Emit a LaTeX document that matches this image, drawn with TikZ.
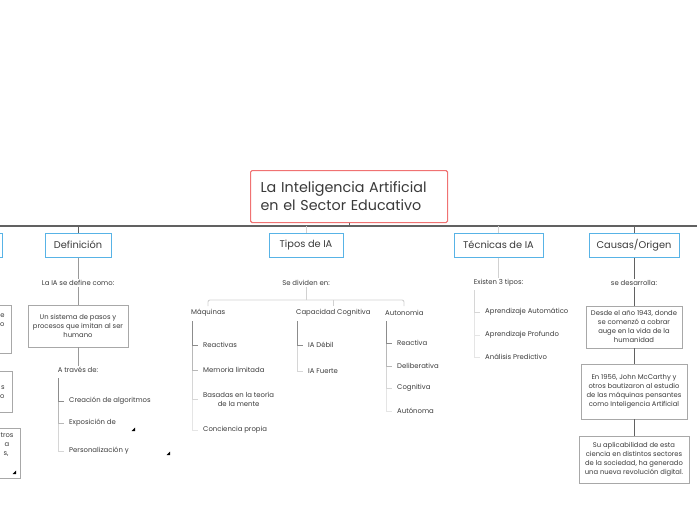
\documentclass[tikz,border=0pt]{standalone}
\usepackage{fontspec}
\setmainfont{Poppins}
\usetikzlibrary{positioning, shadows}

\definecolor{topicred}{HTML}{F07272}
\definecolor{mainblue}{HTML}{58B3E6}
\definecolor{notegray}{HTML}{A8A8A8}
\definecolor{inkgray}{HTML}{3A3A3A}

\begin{document}
\begin{tikzpicture}[x=1pt, y=-1pt, text=inkgray,
    topic/.style={rectangle, draw=topicred, line width=1.1pt, fill=white, rounded corners=1.5pt, text width=177pt, align=left, inner xsep=10pt, minimum width=197pt, minimum height=52pt, font=\fontsize{14.3}{18}\selectfont},
    branch/.style={rectangle, draw=mainblue, line width=1pt, fill=white, minimum height=24pt, inner xsep=0pt, font=\fontsize{9.8}{11}\selectfont},
    note/.style={rectangle, draw=notegray, line width=0.8pt, fill=white, align=center, inner sep=2pt, font=\fontsize{6.8}{9}\selectfont, drop shadow={opacity=0.12, shadow xshift=0.8pt, shadow yshift=-0.8pt}},
    lbl/.style={inner sep=1pt, font=\fontsize{6.9}{9}\selectfont},
    item/.style={lbl, anchor=west, inner xsep=5pt, align=center},
    dark/.style={draw=black!62, line width=1pt},
    mid/.style={draw=black!40, line width=0.9pt},
    light/.style={draw=black!18, line width=0.9pt},
    bara/.style={draw=black!45, line width=0.9pt},
    barb/.style={draw=black!28, line width=0.9pt},
    barc/.style={draw=black!16, line width=0.9pt},
    bard/.style={draw=black!10, line width=0.9pt},
    grip/.style={fill=black}]
    \useasboundingbox (0,0) rectangle (697,520);
    \clip (0,0) rectangle (697,520);

    % central topic and the main line
    \coordinate (mainL) at (0,226);
    \coordinate (mainR) at (697,226);
    \draw [dark, line width=1.4pt] (mainL) -- (mainR);
    \node [topic, anchor=north west] (topic) at (250,170) {La Inteligencia Artificial\\en el Sector Educativo};
    \draw [dark] (topic.south) -- (topic.south |- mainL);

    % main branches
    \node [branch, minimum width=60pt, anchor=east] (prev) at (3,245) {};
    \node [branch, minimum width=66pt] (def) at (78,245) {Definición};
    \node [branch, minimum width=74pt] (tipos) at (306,245) {Tipos de IA};
    \node [branch, minimum width=89pt] (tec) at (498.5,245) {Técnicas de IA};
    \node [branch, minimum width=90pt] (causas) at (634,245) {Causas/Origen};
    \draw [dark] (def.north) -- (def.north |- mainL);
    \draw [light] (tipos.north) -- (tipos.north |- mainL);
    \draw [light] (tec.north) -- (tec.north |- mainL);
    \draw [dark] (causas.north) -- (causas.north |- mainL);

    % clipped boxes on the left edge
    \node [note, anchor=north east, align=right, text width=50pt, inner xsep=7pt, minimum height=48pt] (left1) at (12,305) {e\\o\\~\\~};
    \node [note, anchor=north east, align=right, text width=50pt, inner xsep=8pt, minimum height=41pt] (left2) at (13,371) {s\\o};
    \node [note, anchor=north east, align=left, text width=50pt, inner xsep=2pt, minimum height=50pt] (left3) at (21,428) {\hspace*{32pt}tros\\\hspace*{36pt}a\\\hspace*{35pt}s,\\~\\~};
    \fill [grip] (16,474) -- ++(0,-3.5) -- ++(-3.5,3.5) -- cycle;

    % Definicion
    \node [lbl, below of=def, node distance=38pt] (defas) {La IA se define como:};
    \node [note, minimum width=100pt, minimum height=42pt, below of=defas, node distance=43pt] (defbox) {Un sistema de pasos y\\procesos que imitan al ser\\humano};
    \node [lbl, below of=defbox, node distance=44pt] (traves) {A través de:};
    \draw [mid] (def) -- (defas);
    \draw [mid] (defas) -- (defbox);
    \draw [mid] (defbox) -- (traves);
    \coordinate (travbar) at (58,378);
    \node [item] (algo) at (64,401) {Creación de algoritmos};
    \node [item] (expo) at (64,423) {Exposición de};
    \node [item] (perso) at (64,451) {Personalización y};
    \draw [barc] (travbar) |- (perso.west);
    \draw [barb] (travbar) |- (expo.west);
    \draw [bara] (travbar) |- (algo.west);
    \fill [grip] (135,431) -- ++(0,-3.5) -- ++(-3.5,3.5) -- cycle;
    \fill [grip] (170,455) -- ++(0,-3.5) -- ++(-3.5,3.5) -- cycle;

    % Tipos de IA
    \node [lbl, below of=tipos, node distance=38pt] (divid) {Se dividen en:};
    \coordinate (tj) at (306,300);
    \coordinate (maqtop) at (208,306);
    \coordinate (captop) at (333,306);
    \coordinate (autotop) at (404,306);
    \draw [light] (divid) -- (tj);
    \draw [light, rounded corners=2pt] (maqtop) -- (maqtop |- tj) -- (autotop |- tj) -- (autotop);
    \draw [light] (captop |- tj) -- (captop);
    \node [lbl, anchor=west] (maq) at (190,313) {Máquinas};
    \node [lbl, anchor=west] (cap) at (295,313) {Capacidad Cognitiva};
    \node [lbl, anchor=west] (auto) at (384,313) {Autonomia};

    \coordinate (maqbar) at (192,321);
    \node [item] (reac) at (198,345) {Reactivas};
    \node [item] (mem) at (198,370) {Memoria limitada};
    \node [item] (teor) at (198,399) {Basadas en la teoría\\de la mente};
    \node [item] (conc) at (198,430) {Conciencia propia};
    \draw [bard] (maqbar) |- (conc.west);
    \draw [barc] (maqbar) |- (teor.west);
    \draw [barb] (maqbar) |- (mem.west);
    \draw [bara] (maqbar) |- (reac.west);

    \coordinate (capbar) at (297,321);
    \node [item] (debil) at (303,345) {IA Débil};
    \node [item] (fuerte) at (303,371) {IA Fuerte};
    \draw [barc] (capbar) |- (fuerte.west);
    \draw [bara] (capbar) |- (debil.west);

    \coordinate (autobar) at (386,321);
    \node [item] (reactiva) at (392,343) {Reactiva};
    \node [item] (delib) at (392,366) {Deliberativa};
    \node [item] (cogn) at (392,388) {Cognitiva};
    \node [item] (auton) at (392,411) {Autónoma};
    \draw [bard] (autobar) |- (auton.west);
    \draw [barc] (autobar) |- (cogn.west);
    \draw [barb] (autobar) |- (delib.west);
    \draw [bara] (autobar) |- (reactiva.west);

    % Tecnicas de IA
    \node [lbl, below of=tec, node distance=38pt] (existen) {Existen 3 tipos:};
    \draw [light] (tec) -- (existen);
    \coordinate (tecbar) at (474,290);
    \node [item] (aauto) at (480,312) {Aprendizaje Automático};
    \node [item] (aprof) at (480,335) {Aprendizaje Profundo};
    \node [item] (apred) at (480,357) {Análisis Predictivo};
    \draw [bard] (tecbar) |- (apred.west);
    \draw [bard] (tecbar) |- (aprof.west);
    \draw [barc] (tecbar) |- (aauto.west);

    % Causas/Origen
    \node [lbl, below of=causas, node distance=38pt] (desarr) {se desarrolla:};
    \node [note, minimum width=96pt, minimum height=42pt, below of=desarr, node distance=44pt] (orig1) {Desde el año 1943, donde\\se comenzó a cobrar\\auge en la vida de la\\humanidad};
    \node [note, minimum width=106pt, minimum height=55pt, below of=orig1, node distance=64.5pt] (orig2) {En 1956, John McCarthy y\\otros bautizaron al estudio\\de las máquinas pensantes\\como Inteligencia Artificial};
    \node [note, minimum width=110pt, minimum height=47pt, below of=orig2, node distance=68pt] (orig3) {Su aplicabilidad de esta\\ciencia en distintos sectores\\de la sociedad, ha generado\\una nueva revolución digital.};
    \draw [dark] (causas) -- (desarr);
    \draw [dark] (desarr) -- (orig1);
    \draw [dark] (orig1) -- (orig2);
    \draw [dark] (orig2) -- (orig3);
\end{tikzpicture}
\end{document}
